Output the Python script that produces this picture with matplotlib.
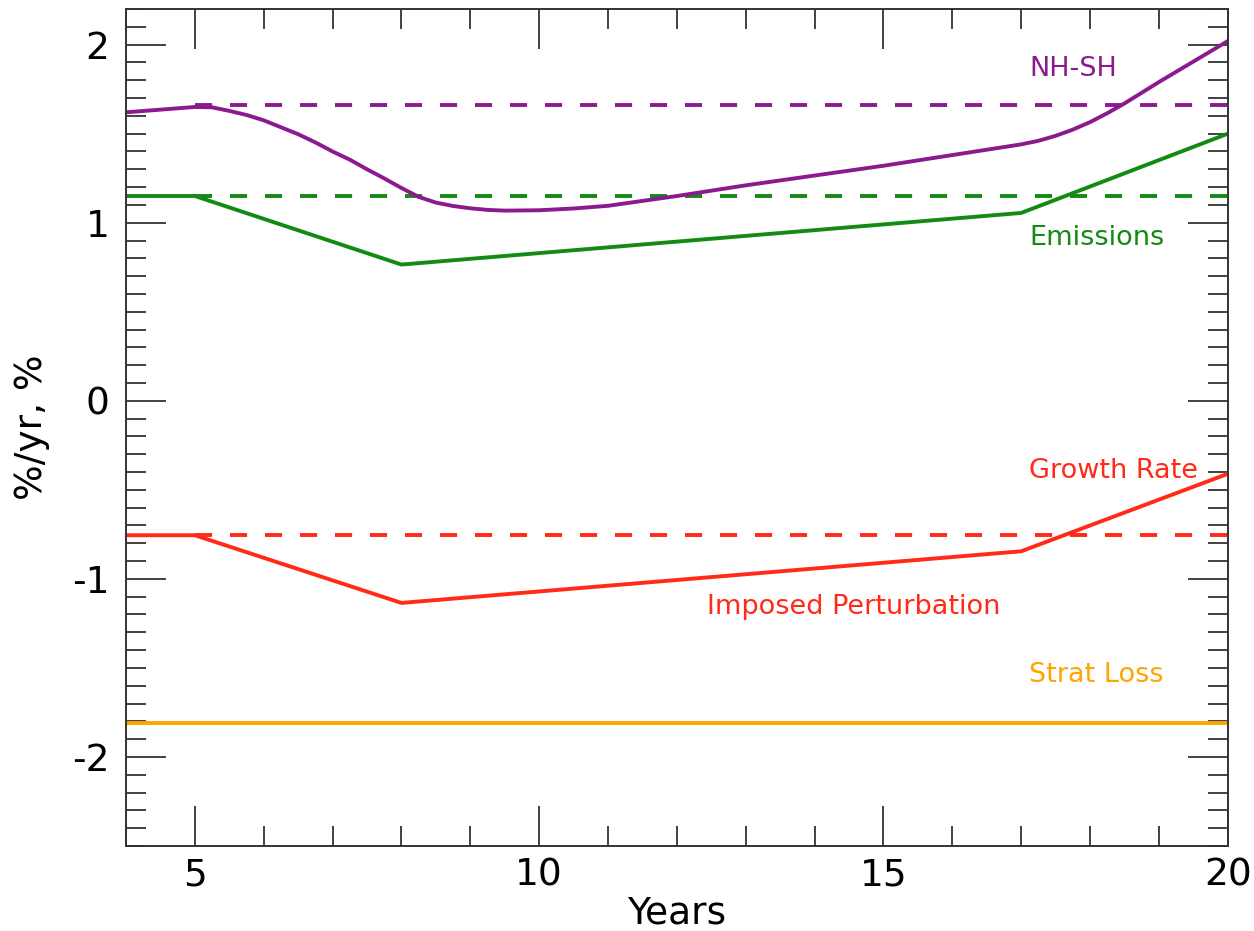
import matplotlib
matplotlib.use('Agg')
import matplotlib.pyplot as plt
from matplotlib.ticker import MultipleLocator

plt.rcParams['axes.unicode_minus'] = False

# NH-SH difference (purple)
nhsh_x = [4, 4.5, 5, 5.25, 5.5, 5.75, 6, 6.25, 6.5, 6.75, 7, 7.25, 7.5, 7.75,
          8, 8.25, 8.5, 8.75, 9, 9.25, 9.5, 10, 10.5, 11,
          12, 13, 14, 15, 16, 16.5, 17, 17.25, 17.5, 17.75, 18, 18.25, 18.5,
          19, 19.5, 20]
nhsh_y = [1.62, 1.635, 1.65, 1.648, 1.628, 1.605, 1.575, 1.536, 1.497, 1.451,
          1.40, 1.354, 1.30, 1.249, 1.195, 1.145, 1.113, 1.094, 1.081, 1.072,
          1.068, 1.07, 1.08, 1.095, 1.15, 1.21, 1.265, 1.32, 1.38, 1.41,
          1.44, 1.46, 1.488, 1.523, 1.565, 1.615, 1.67, 1.79, 1.905, 2.02]
nhsh_ref = 1.663

# emissions (green)
emis_x = [4, 5, 8, 17, 20]
emis_y = [1.15, 1.15, 0.765, 1.055, 1.50]
emis_ref = 1.15

# growth rate / imposed perturbation (red)
grow_x = [4, 5, 8, 17, 20]
grow_y = [-0.755, -0.755, -1.135, -0.845, -0.41]
grow_ref = -0.755

# strat loss (orange)
strat_x = [4, 20]
strat_y = [-1.81, -1.81]

ref_x = [5, 20]

purple = '#8b1a8f'
green = '#138a13'
red = '#ff2a17'
orange = '#ffa500'

fig = plt.figure(figsize=(12.54, 9.31), dpi=100)
ax = fig.add_axes([0.1005, 0.0913, 0.8786, 0.8990])

lw = 2.8
dash = (0, (4.4, 4.6))
ax.plot(strat_x, strat_y, color=orange, lw=lw)
ax.plot(ref_x, [grow_ref, grow_ref], color=red, lw=lw, linestyle=dash)
ax.plot(grow_x, grow_y, color=red, lw=lw)
ax.plot(ref_x, [emis_ref, emis_ref], color=green, lw=lw, linestyle=dash)
ax.plot(emis_x, emis_y, color=green, lw=lw)
ax.plot(ref_x, [nhsh_ref, nhsh_ref], color=purple, lw=lw, linestyle=dash)
ax.plot(nhsh_x, nhsh_y, color=purple, lw=lw)

fs = 19.5
ax.text(17.12, 1.865, 'NH-SH', color=purple, fontsize=fs, va='center')
ax.text(17.12, 0.916, 'Emissions', color=green, fontsize=fs, va='center')
ax.text(17.12, -0.393, 'Growth Rate', color=red, fontsize=fs, va='center')
ax.text(12.44, -1.157, 'Imposed Perturbation', color=red, fontsize=fs, va='center')
ax.text(17.12, -1.54, 'Strat Loss', color=orange, fontsize=fs, va='center')

ax.set_xlim(4, 20)
ax.set_ylim(-2.5, 2.2)
ax.xaxis.set_major_locator(MultipleLocator(5))
ax.xaxis.set_minor_locator(MultipleLocator(1))
ax.yaxis.set_major_locator(MultipleLocator(1))
ax.yaxis.set_minor_locator(MultipleLocator(0.1))

tc = '#333333'
ax.tick_params(which='both', direction='in', top=True, right=True, color=tc, width=1.3)
ax.tick_params(which='major', length=28.8, labelsize=27)
ax.tick_params(which='minor', length=14.4)
ax.tick_params(axis='x', which='major', pad=8)
ax.tick_params(axis='y', which='major', pad=12)
for s in ax.spines.values():
    s.set_color(tc)
    s.set_linewidth(1.4)

ax.set_xlabel('Years', fontsize=27, labelpad=2)
ax.set_ylabel('%/yr, %', fontsize=27)
ax.yaxis.set_label_coords(-0.069, 0.5)

fig.savefig('out.png', dpi=100)
